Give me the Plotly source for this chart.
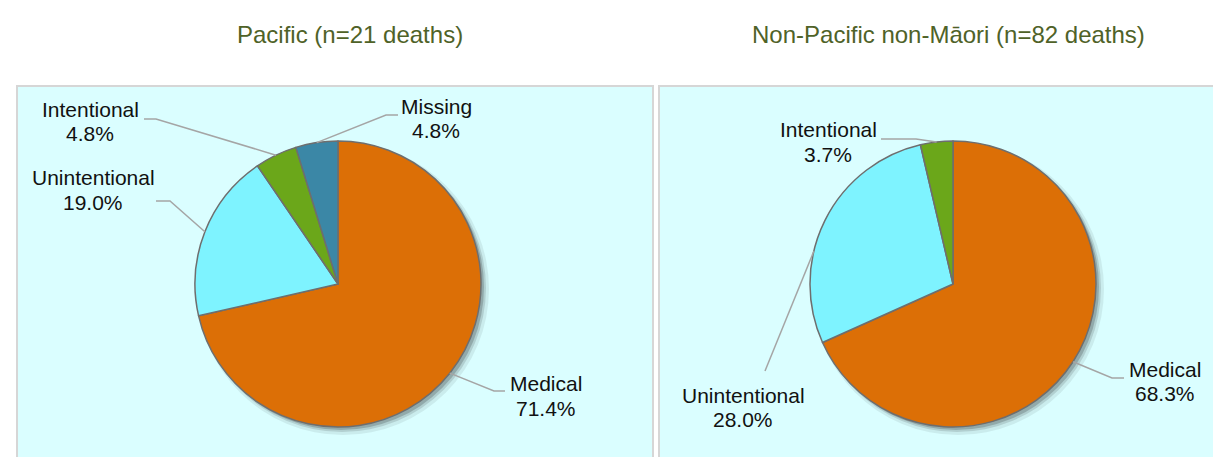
import math
import plotly.graph_objects as go

W, H = 1221, 457

# ---------------- data ----------------
pacific_title = "Pacific (n=21 deaths)"
pacific_labels = ["Medical", "Unintentional", "Intentional", "Missing"]
pacific_values = [15, 4, 1, 1]

nonpacific_title = "Non-Pacific non-Māori (n=82 deaths)"
nonpacific_labels = ["Medical", "Unintentional", "Intentional"]
nonpacific_values = [56, 23, 3]

slice_colors = {
    "Medical": "#DC6F06",
    "Unintentional": "#7EF3FF",
    "Intentional": "#6BA71A",
    "Missing": "#3B87A6",
}

# ---------------- layout (pixels) ----------------
# t = (text centre x, baseline of first line, baseline of second line)
charts = [
    dict(
        title=pacific_title, labels=pacific_labels, values=pacific_values,
        cx=330, cy=276, r=143, title_x=342, title_base=35,
        panel=(9, 78, 645, 470),
        callouts={
            "Medical": dict(t=(538, 383, 408), elbow=(486, 383), end=(497, 383), frac=0.5),
            "Unintentional": dict(t=(85, 177, 202), elbow=(162, 193), end=(148, 193), frac=0.5),
            "Intentional": dict(t=(82, 109, 133), elbow=(148, 111), end=(136, 111), frac=0.5),
            "Missing": dict(t=(428, 106, 130), elbow=(378, 107), end=(390, 107), frac=0.5),
        },
    ),
    dict(
        title=nonpacific_title, labels=nonpacific_labels, values=nonpacific_values,
        cx=945, cy=276, r=143, title_x=940, title_base=35,
        panel=(651, 78, 1230, 470),
        callouts={
            "Medical": dict(t=(1157, 369, 393), elbow=(1104, 370), end=(1116, 370), frac=0.5),
            "Unintentional": dict(t=(735, 395, 419), elbow=(757, 363), end=(757, 363), frac=0.37),
            "Intentional": dict(t=(820, 129, 154), elbow=(908, 131), end=(873, 131), frac=0.5),
        },
    ),
]

FONT = "Liberation Sans, Arial"
LABEL_SIZE = 21
TITLE_SIZE = 24


def px(x):
    return x / W


def py(y):
    return 1 - y / H


def edge_point(values, i, cx, cy, r, frac):
    total = float(sum(values))
    start = sum(values[:i]) / total
    ang = (start + frac * values[i] / total) * 2 * math.pi
    return cx + r * math.sin(ang), cy - r * math.cos(ang)


def text_ann(text, x, baseline, size, color):
    # centre of a single text line sits ~0.36em above its baseline
    return dict(text=text, x=px(x), y=py(baseline - 0.36 * size),
                xref="paper", yref="paper", showarrow=False,
                xanchor="center", yanchor="middle",
                font=dict(family=FONT, size=size, color=color))


fig = go.Figure()
shapes = []
annotations = []

# panels first (below everything)
for c in charts:
    x0, y0, x1, y1 = c["panel"]
    shapes.append(dict(type="rect", xref="paper", yref="paper",
                       x0=px(x0), x1=px(x1), y0=py(y1), y1=py(y0),
                       fillcolor="#DAFEFF", line=dict(color="#D6D6D6", width=2),
                       layer="below"))

# soft shadows
for c in charts:
    cx, cy, r = c["cx"], c["cy"], c["r"]
    for off, extra, alpha in [(5, 3, 0.07), (4, 1, 0.12), (3, 0, 0.18)]:
        shapes.append(dict(type="circle", xref="paper", yref="paper",
                           x0=px(cx + off - r - extra), x1=px(cx + off + r + extra),
                           y0=py(cy + off + r + extra), y1=py(cy + off - r - extra),
                           fillcolor=f"rgba(0,0,0,{alpha})", line=dict(width=0),
                           layer="below"))

for c in charts:
    cx, cy, r = c["cx"], c["cy"], c["r"]
    fig.add_trace(go.Pie(
        labels=c["labels"], values=c["values"],
        sort=False, direction="clockwise", rotation=0,
        marker=dict(colors=[slice_colors[l] for l in c["labels"]],
                    line=dict(color="#6E6E6E", width=1.5)),
        textinfo="none", hoverinfo="label+percent",
        domain=dict(x=[px(cx - r), px(cx + r)], y=[py(cy + r), py(cy - r)]),
        showlegend=False,
    ))
    annotations.append(text_ann(c["title"], c["title_x"], c["title_base"], TITLE_SIZE, "#4F6228"))
    total = float(sum(c["values"]))
    for i, lab in enumerate(c["labels"]):
        co = c["callouts"][lab]
        pct = c["values"][i] / total * 100
        tx, b1, b2 = co["t"]
        annotations.append(text_ann(lab, tx, b1, LABEL_SIZE, "#111111"))
        annotations.append(text_ann(f"{pct:.1f}%", tx, b2, LABEL_SIZE, "#111111"))
        ex, ey = edge_point(c["values"], i, cx, cy, r, co["frac"])
        bx, by = co["elbow"]
        hx, hy = co["end"]
        shapes.append(dict(type="path", xref="paper", yref="paper",
                           path=f"M {px(ex)},{py(ey)} L {px(bx)},{py(by)} L {px(hx)},{py(hy)}",
                           line=dict(color="#A5A5A5", width=1.5), layer="above"))

fig.update_layout(
    width=W, height=H,
    margin=dict(l=0, r=0, t=0, b=0),
    paper_bgcolor="white", plot_bgcolor="white",
    shapes=shapes, annotations=annotations,
)

fig.write_html("out.html")
